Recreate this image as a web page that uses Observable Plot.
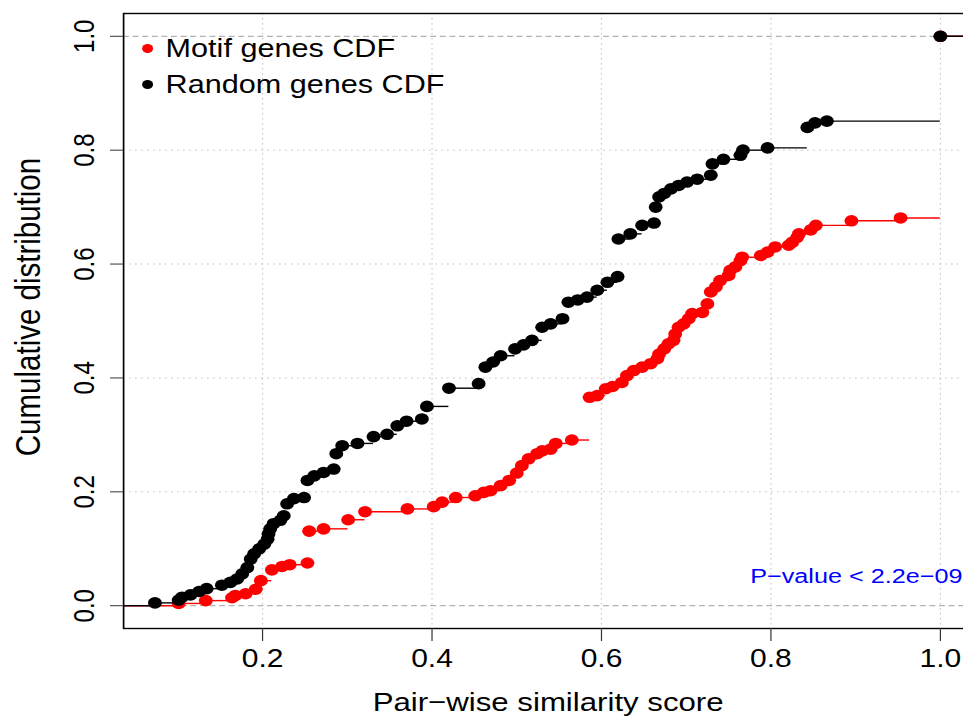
<!DOCTYPE html>
<html><head><meta charset="utf-8">
<script src="https://cdn.jsdelivr.net/npm/d3@7"></script>
<script src="https://cdn.jsdelivr.net/npm/@observablehq/plot@0.6"></script>
<style>html,body{margin:0;padding:0;background:#fff;overflow:hidden}</style>
</head><body><div id="chart"></div>
<script>
// ---- data ----
const motifX = [0.101,0.133,0.164,0.168,0.180,0.192,0.198,0.211,0.223,0.232,0.253,0.255,0.272,0.301,0.321,0.371,0.402,0.412,0.428,0.451,0.461,0.469,0.481,0.491,0.500,0.506,0.514,0.524,0.530,0.540,0.546,0.565,0.586,0.595,0.605,0.613,0.624,0.630,0.638,0.648,0.658,0.666,0.668,0.674,0.679,0.685,0.687,0.691,0.697,0.703,0.707,0.719,0.725,0.729,0.735,0.740,0.750,0.752,0.758,0.764,0.766,0.788,0.796,0.805,0.821,0.825,0.831,0.833,0.847,0.853,0.895,0.953,1.000];
const motifY = [0.004,0.009,0.014,0.018,0.021,0.029,0.044,0.063,0.069,0.072,0.075,0.131,0.135,0.151,0.165,0.170,0.174,0.182,0.190,0.193,0.199,0.202,0.211,0.220,0.233,0.246,0.258,0.267,0.272,0.275,0.285,0.291,0.366,0.369,0.381,0.385,0.392,0.404,0.413,0.419,0.425,0.434,0.442,0.451,0.460,0.466,0.477,0.489,0.495,0.504,0.513,0.515,0.530,0.551,0.560,0.571,0.580,0.589,0.595,0.606,0.612,0.615,0.621,0.630,0.633,0.638,0.647,0.653,0.660,0.668,0.676,0.681,1.000];
const randomX = [0.073,0.101,0.105,0.115,0.125,0.134,0.152,0.162,0.170,0.176,0.182,0.186,0.190,0.196,0.202,0.206,0.207,0.209,0.213,0.221,0.225,0.229,0.237,0.249,0.253,0.261,0.272,0.284,0.287,0.294,0.312,0.331,0.347,0.359,0.370,0.388,0.394,0.420,0.455,0.463,0.472,0.481,0.498,0.508,0.518,0.530,0.540,0.554,0.561,0.572,0.583,0.595,0.607,0.619,0.620,0.634,0.648,0.662,0.664,0.668,0.674,0.682,0.691,0.701,0.713,0.729,0.731,0.744,0.764,0.767,0.796,0.843,0.852,0.866,1.000];
const randomY = [0.005,0.010,0.015,0.019,0.025,0.030,0.036,0.041,0.047,0.056,0.067,0.082,0.091,0.100,0.108,0.117,0.126,0.135,0.144,0.150,0.158,0.179,0.188,0.190,0.220,0.228,0.234,0.240,0.267,0.281,0.285,0.297,0.301,0.316,0.324,0.328,0.350,0.382,0.390,0.419,0.428,0.439,0.451,0.458,0.466,0.489,0.495,0.504,0.533,0.537,0.542,0.554,0.568,0.578,0.644,0.653,0.668,0.672,0.700,0.718,0.724,0.732,0.738,0.744,0.749,0.756,0.776,0.784,0.791,0.800,0.804,0.840,0.848,0.851,1.000];
const seriesNames = ["Motif genes CDF", "Random genes CDF"];
const seriesColors = ["#ff0000", "#000000"];
const xTicks = [0.2, 0.4, 0.6, 0.8, 1.0];
const yTicks = [0.0, 0.2, 0.4, 0.6, 0.8, 1.0];
const xLabel = "Pair\u2212wise similarity score";
const yLabel = "Cumulative distribution";
const pText = "P\u2212value < 2.2e\u221209";

// ---- layout ----
const W = 963, H = 717, SX = 1.2;          // original figure was stretched horizontally
const IW = 810;                             // internal width (right part cropped)
const VW = W / SX;                          // visible internal width
const xDomain = [0.036, 1.038], yDomain = [-0.04, 1.04];
const font = "'Liberation Sans', Arial, Helvetica, sans-serif";

function steps(xs, ys, name) {
  const segs = [{x1: xDomain[0], x2: xs[0], y: 0, series: name}];
  xs.forEach((x, i) => segs.push({x1: x, x2: i + 1 < xs.length ? xs[i + 1] : xDomain[1], y: ys[i], series: name}));
  return segs;
}
const pts = (xs, ys, name) => xs.map((x, i) => ({x, y: ys[i], series: name}));
const motifSegs = steps(motifX, motifY, seriesNames[0]);
const randomSegs = steps(randomX, randomY, seriesNames[1]);
const motifPts = pts(motifX, motifY, seriesNames[0]);
const randomPts = pts(randomX, randomY, seriesNames[1]);
const colorScale = {domain: seriesNames, range: seriesColors};

const legendMarks = seriesNames.flatMap((name, i) => [
  Plot.dot([name], {frameAnchor: "top-left", dx: 20, dy: 35 + 36 * i, fill: d => d, r: 4.6}),
  Plot.text([name], {frameAnchor: "top-left", dx: 35, dy: 35 + 36 * i, textAnchor: "start", lineAnchor: "middle", fontSize: 25.5, text: d => d})
]);

const chart = Plot.plot({
  width: IW, height: H,
  marginLeft: 102.5, marginRight: 0, marginTop: 13, marginBottom: 89,
  style: {fontFamily: font, background: "#fff", color: "#000"},
  x: {domain: xDomain},
  y: {domain: yDomain},
  color: colorScale,
  marks: [
    Plot.gridX(xTicks, {stroke: "#c8c8c8", strokeOpacity: 1, strokeDasharray: "1.5,3.5", strokeWidth: 1}),
    Plot.gridY(yTicks.filter(d => d > 0 && d < 1), {stroke: "#c8c8c8", strokeOpacity: 1, strokeDasharray: "1.5,3.5", strokeWidth: 1}),
    Plot.ruleY([0, 1], {stroke: "#b3b3b3", strokeDasharray: "5,3", strokeWidth: 1.3}),
    Plot.ruleY(motifSegs, {x1: "x1", x2: "x2", y: "y", stroke: "series", strokeWidth: 1.4}),
    Plot.dot(motifPts, {x: "x", y: "y", fill: "series", r: 5.8}),
    Plot.ruleY(randomSegs, {x1: "x1", x2: "x2", y: "y", stroke: "series", strokeWidth: 1.4}),
    Plot.dot(randomPts, {x: "x", y: "y", fill: "series", r: 5.8}),
    Plot.frame({stroke: "#000", strokeWidth: 1.4}),
    Plot.axisX({ticks: xTicks, tickSize: 13, tickPadding: 8, fontSize: 25, tickFormat: d3.format(".1f"), label: null, stroke: "#333"}),
    Plot.axisY({ticks: yTicks, tickSize: 13 / SX, tickPadding: 14, tickRotate: -90, fontSize: 24, tickFormat: d3.format(".1f"), label: null, stroke: "#333"}),
    Plot.text([xLabel], {frameAnchor: "bottom", dy: 82, fontSize: 26, text: d => d}),
    Plot.text([yLabel], {frameAnchor: "left", dx: -79, dy: -14, rotate: -90, textAnchor: "middle", lineAnchor: "middle", fontSize: 29.5, text: d => d}),
    ...legendMarks,
    Plot.text([pText], {frameAnchor: "bottom-right", dx: -(IW - VW) - 1, dy: -46, textAnchor: "end", fill: "#0000ff", fontSize: 21, text: d => d})
  ]
});
chart.setAttribute("viewBox", `0 0 ${VW} ${H}`);
chart.setAttribute("width", W);
chart.setAttribute("height", H);
chart.setAttribute("preserveAspectRatio", "none");
chart.style.width = W + "px";
chart.style.height = H + "px";
chart.style.maxWidth = "none";
document.getElementById("chart").appendChild(chart);
</script>
</body></html>
